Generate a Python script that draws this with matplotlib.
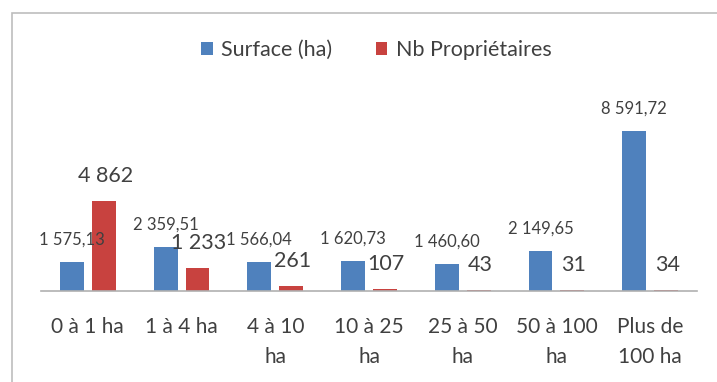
import matplotlib
matplotlib.use('Agg')

import matplotlib.pyplot as plt
import matplotlib.patches as mpatches
import numpy as np

# ==================== DATA ====================
categories = ['0 à 1 ha', '1 à 4 ha', '4 à 10\nha', '10 à 25\nha',
              '25 à 50\nha', '50 à 100\nha', 'Plus de\n100 ha']
surface = [1575.13, 2359.51, 1566.04, 1620.73, 1460.60, 2149.65, 8591.72]
proprietaires = [4862, 1233, 261, 107, 43, 31, 34]

BLUE = '#4F81BD'
RED = '#C8423F'
TEXT = '#404040'


def fr_number(v, decimals):
    s = f"{v:,.{decimals}f}"
    return s.replace(',', ' ').replace('.', ',')


plt.rcParams['font.family'] = ['Lato', 'DejaVu Sans']

fig = plt.figure(figsize=(7.17, 3.82), dpi=100)
fig.patch.set_facecolor('white')

# outer chart frame (cropped on right/bottom)
frame = mpatches.Rectangle((12 / 717, -0.1), 1.0, (382 - 13) / 382 + 0.1,
                           transform=fig.transFigure, fill=False,
                           edgecolor='#BDBDBD', linewidth=1.2)
fig.patches.append(frame)

ax = fig.add_axes([41 / 717, (382 - 291) / 382, 656 / 717, 0.487])

x = np.arange(len(categories))
w = 0.255
off = 0.17
b1 = ax.bar(x - off, surface, w, color=BLUE, label='Surface (ha)')
b2 = ax.bar(x + off, proprietaires, w, color=RED, label='Nb Propriétaires')

ax.set_xlim(-0.5, len(categories) - 0.5)
ax.set_ylim(0, 10000)

for rect, v in zip(b1, surface):
    ax.annotate(fr_number(v, 2), (rect.get_x() + rect.get_width() / 2, v),
                xytext=(0, 16), textcoords='offset points',
                ha='center', va='center', fontsize=12, color=TEXT)
for rect, v in zip(b2, proprietaires):
    ax.annotate(fr_number(v, 0), (rect.get_x() + rect.get_width() / 2, v),
                xytext=(1, 18), textcoords='offset points',
                ha='center', va='center', fontsize=15.5, color=TEXT)

for s in ['top', 'right', 'left']:
    ax.spines[s].set_visible(False)
ax.spines['bottom'].set_color('#B0B0B0')
ax.spines['bottom'].set_linewidth(1.2)
ax.set_yticks([])
ax.set_xticks(x)
ax.set_xticklabels(categories, fontsize=15, color=TEXT, linespacing=1.6)
ax.tick_params(axis='x', length=0, pad=19)

fig.legend(handles=[b1, b2], loc='center', bbox_to_anchor=(0.525, 0.869),
           ncol=2, frameon=False, fontsize=15.5, handlelength=0.55,
           handleheight=0.55, handletextpad=0.4, columnspacing=2.0,
           labelcolor=TEXT)

plt.savefig('out.png', dpi=100, facecolor='white')
plt.close()
